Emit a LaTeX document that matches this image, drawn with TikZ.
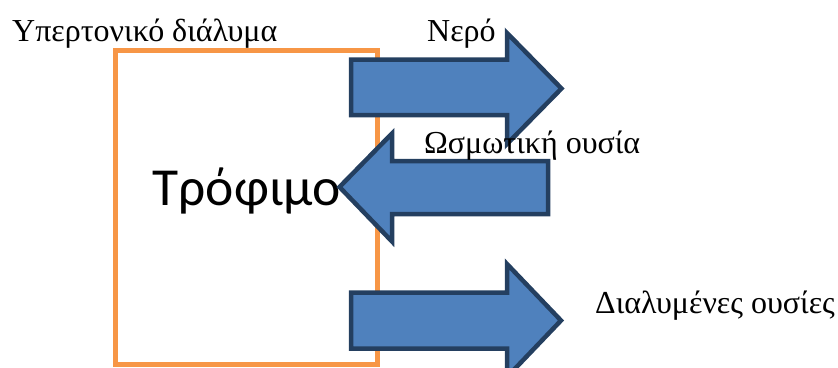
\documentclass[tikz,border=0pt]{standalone}
\usepackage{fontspec}
\setmainfont{Liberation Serif}
\newfontfamily\calfont{Carlito}
\definecolor{boxorange}{HTML}{F79646}
\definecolor{arrowfill}{HTML}{4F81BD}
\definecolor{arrowline}{HTML}{243F60}
\begin{document}
\begin{tikzpicture}[x=1pt,y=-1pt,
  blockarrow/.style={fill=arrowfill,draw=arrowline,line width=4.5pt,line join=miter},
  foodbox/.style={draw=boxorange,line width=5pt},
  lbl/.style={inner sep=0pt,anchor=base west,font=\fontsize{32}{34}\selectfont}]
\useasboundingbox (0,0) rectangle (838,367);
% food container
\draw[foodbox] (115.5,50) rectangle (377,364);
\node[inner sep=0pt,anchor=base west,font=\calfont\fontsize{53.5}{58}\selectfont] (food) at (152.5,205) {Τρόφιμο};
% water leaving
\draw[blockarrow] (351,59.5) -- (507,59.5) -- (507,33) -- (561.5,88.5) -- (507,144) -- (507,115) -- (351,115) -- cycle;
% osmotic substance entering
\draw[blockarrow] (548,161) -- (392,161) -- (392,133.5) -- (339.5,187) -- (392,241.5) -- (392,214) -- (548,214) -- cycle;
% dissolved substances leaving
\draw[blockarrow] (351,292.5) -- (507,292.5) -- (507,264) -- (561,320.5) -- (507,377) -- (507,348.5) -- (351,348.5) -- cycle;
% labels
\node[lbl] (hyper) at (12,41.5) {Υπερτονικό διάλυμα};
\node[lbl] (water) at (427,41.5) {Νερό};
\node[lbl] (osm) at (424,153.3) {Ωσμωτική ουσία};
\node[lbl] (dissolved) at (595,313) {Διαλυμένες ουσίες};
\end{tikzpicture}
\end{document}
